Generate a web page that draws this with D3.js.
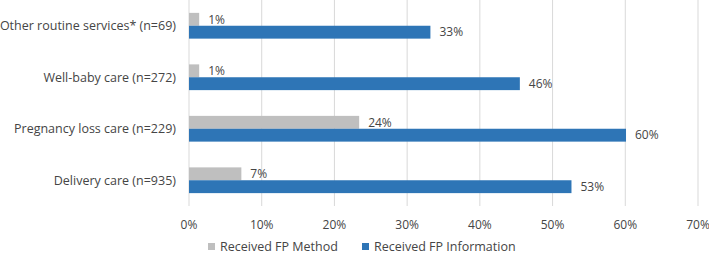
<!DOCTYPE html>
<head>
	<meta charset="utf-8" />
	<style>
		body {
			margin: 0;
			background-color: #fff;
			overflow: hidden;
		}
		text {
			font-family: 'Open Sans', sans-serif;
			fill: #454545;
		}
	</style>
</head>
<body>
	<div id="chart-area"></div>
	<script src="https://cdnjs.cloudflare.com/ajax/libs/d3/7.8.5/d3.min.js"></script>
	<script>
		// data
		const categories = [
			'Other routine services* (n=69)',
			'Well-baby care (n=272)',
			'Pregnancy loss care (n=229)',
			'Delivery care (n=935)',
		];
		const seriesNames = ['Received FP Method', 'Received FP Information'];
		const methodValues = [1.4, 1.4, 23.4, 7.2];
		const infoValues = [33.2, 45.5, 60.1, 52.6];
		const methodLabels = ['1%', '1%', '24%', '7%'];
		const infoLabels = ['33%', '46%', '60%', '53%'];
		const xTicks = [0, 10, 20, 30, 40, 50, 60, 70];
		const colors = ['#BFBFBF', '#2E75B6'];

		const width = 709,
			height = 255;
		const margins = { top: 0, left: 189, right: 11, bottom: 49 };

		const svg = d3
			.select('#chart-area')
			.append('svg')
			.attr('width', width)
			.attr('height', height);

		const x = d3
			.scaleLinear()
			.domain([0, 70])
			.range([margins.left, width - margins.right]);

		const y = d3
			.scaleBand()
			.domain(categories)
			.range([margins.top, height - margins.bottom])
			.paddingInner(0.5)
			.paddingOuter(0.25);

		const sub = d3.scaleBand().domain(seriesNames).range([0, y.bandwidth()]);

		// gridlines
		svg.append('g')
			.selectAll('line')
			.data(xTicks)
			.join('line')
			.attr('x1', d => x(d))
			.attr('x2', d => x(d))
			.attr('y1', margins.top)
			.attr('y2', height - margins.bottom)
			.attr('stroke', '#D9D9D9')
			.attr('stroke-width', 1);

		const rows = categories.map((c, i) => ({
			cat: c,
			vals: [
				{ s: seriesNames[0], v: methodValues[i], lab: methodLabels[i] },
				{ s: seriesNames[1], v: infoValues[i], lab: infoLabels[i] },
			],
		}));

		const group = svg
			.append('g')
			.selectAll('g')
			.data(rows)
			.join('g')
			.attr('transform', d => `translate(0,${y(d.cat)})`);

		group
			.selectAll('rect')
			.data(d => d.vals)
			.join('rect')
			.attr('x', x(0))
			.attr('y', d => sub(d.s))
			.attr('width', d => x(d.v) - x(0))
			.attr('height', sub.bandwidth())
			.attr('fill', (d, i) => colors[i]);

		group
			.selectAll('text.lab')
			.data(d => d.vals)
			.join('text')
			.attr('class', 'lab')
			.attr('x', d => x(d.v) + 9)
			.attr('y', d => sub(d.s) + sub.bandwidth() / 2)
			.attr('dy', '0.35em')
			.style('font-size', '12px')
			.text(d => d.lab);

		// category labels
		svg.append('g')
			.selectAll('text')
			.data(categories)
			.join('text')
			.attr('x', margins.left - 13)
			.attr('y', d => y(d) + y.bandwidth() / 2)
			.attr('dy', '0.35em')
			.attr('text-anchor', 'end')
			.style('font-size', '12.5px')
			.text(d => d);

		// x tick labels
		svg.append('g')
			.selectAll('text')
			.data(xTicks)
			.join('text')
			.attr('x', d => x(d))
			.attr('y', 229)
			.attr('text-anchor', 'middle')
			.style('font-size', '12px')
			.text(d => d + '%');

		// legend
		const legendX = [208, 362];
		const legend = svg
			.append('g')
			.selectAll('g')
			.data(seriesNames)
			.join('g')
			.attr('transform', (d, i) => `translate(${legendX[i]},246.5)`);

		legend
			.append('rect')
			.attr('x', 0)
			.attr('y', -3.5)
			.attr('width', 7)
			.attr('height', 7)
			.attr('fill', (d, i) => colors[i]);

		legend
			.append('text')
			.attr('x', 12)
			.attr('y', 0)
			.attr('dy', '0.35em')
			.style('font-size', '12.5px')
			.text(d => d);
	</script>
</body>
